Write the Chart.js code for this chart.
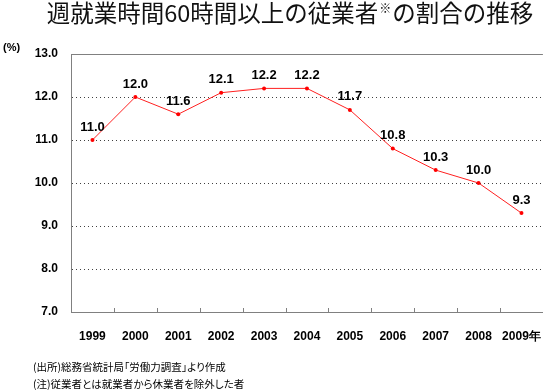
<!DOCTYPE html>
<html lang="ja">
<head>
<meta charset="utf-8">
<script src="https://cdn.jsdelivr.net/npm/chart.js@4/dist/chart.umd.min.js"></script>
<style>
  html, body { margin: 0; padding: 0; background: #fff; }
  #wrap { position: relative; width: 550px; height: 391px; overflow: hidden; }
  #chart { position: absolute; left: 0; top: 0; }
  .title {
    position: absolute; left: 0; width: 580px; top: -3px; text-align: center; white-space: nowrap;
    font: 23.5px "Noto Sans CJK JP", sans-serif; color: #111; line-height: 30px;
  }
  .title sup { font-size: 12px; vertical-align: 9px; line-height: 0; padding: 0 1px; }
  .unit { position: absolute; left: 3px; top: 41px; font: bold 11px "Liberation Sans", "Noto Sans CJK JP", sans-serif; }
  .note { position: absolute; left: 33px; font: 10.5px "Noto Sans CJK JP", sans-serif; color: #000; font-feature-settings: "palt"; }
</style>
</head>
<body>
<div id="wrap">
  <canvas id="chart" width="550" height="391"></canvas>
  <div class="title">週就業時間60時間以上の従業者<sup>※</sup>の割合の推移</div>
  <div class="unit">(%)</div>
  <div class="note" style="top:359px">(出所)総務省統計局「労働力調査」より作成</div>
  <div class="note" style="top:376px">(注)従業者とは就業者から休業者を除外した者</div>
</div>
<script>
// ── Chart Data ──
const YEARS = ['1999', '2000', '2001', '2002', '2003', '2004', '2005', '2006', '2007', '2008', '2009年'];
const SHARE = [11.0, 12.0, 11.6, 12.1, 12.2, 12.2, 11.7, 10.8, 10.3, 10.0, 9.3];
const Y_MIN = 7, Y_MAX = 13;

const NUM_FONT = '"Liberation Sans", Arial, sans-serif';

// ── Value labels above points + inward x ticks + solid top line ──
const decor = {
  id: 'decor',
  afterDatasetsDraw(chart) {
    const { ctx, chartArea } = chart;
    const x = chart.scales.x;

    ctx.save();
    ctx.strokeStyle = '#808080';
    ctx.lineWidth = 1;
    ctx.beginPath();
    ctx.moveTo(chartArea.left, chartArea.top + 0.5);
    ctx.lineTo(chartArea.right, chartArea.top + 0.5);
    // tick marks between categories, pointing up
    for (let i = 1; i < YEARS.length; i++) {
      const px = Math.round((x.getPixelForValue(i - 1) + x.getPixelForValue(i)) / 2) + 0.5;
      ctx.moveTo(px, chartArea.bottom);
      ctx.lineTo(px, chartArea.bottom - 4);
    }
    ctx.stroke();

    ctx.fillStyle = '#000';
    ctx.font = 'bold 13px ' + NUM_FONT;
    ctx.textAlign = 'center';
    ctx.textBaseline = 'middle';
    chart.getDatasetMeta(0).data.forEach((pt, i) => {
      ctx.fillText(SHARE[i].toFixed(1), pt.x, pt.y - 13);
    });
    ctx.restore();
  }
};

new Chart(document.getElementById('chart'), {
  type: 'line',
  data: {
    labels: YEARS,
    datasets: [{
      data: SHARE,
      borderColor: '#ff2020',
      borderWidth: 1,
      pointBackgroundColor: '#ff0000',
      pointBorderColor: '#ff0000',
      pointRadius: 2,
      pointBorderWidth: 0,
      tension: 0,
    }],
  },
  options: {
    responsive: false,
    animation: false,
    layout: { padding: { left: 0, top: 54, right: 1, bottom: 49 } },
    plugins: { legend: { display: false }, tooltip: { enabled: false } },
    scales: {
      x: {
        offset: true,
        grid: { display: false },
        border: { display: true, color: '#808080', width: 1 },
        ticks: { color: '#000', font: { family: NUM_FONT, size: 12, weight: 'bold' }, padding: 9, maxRotation: 0, autoSkip: false },
        afterFit: s => { s.height = 30; },
      },
      y: {
        min: Y_MIN, max: Y_MAX,
        grid: {
          drawTicks: false,
          color: c => (c.tick && (c.tick.value === Y_MAX || c.tick.value === Y_MIN)) ? 'rgba(0,0,0,0)' : '#404040',
        },
        border: {
          display: true, color: '#808080', width: 1,
          dash: [1, 3],
        },
        ticks: {
          stepSize: 1, color: '#000', padding: 13,
          font: { family: NUM_FONT, size: 12, weight: 'bold' },
          callback: v => v.toFixed(1),
        },
        afterFit: s => { s.width = 71; },
      },
    },
  },
  plugins: [decor],
});
</script>
</body>
</html>
